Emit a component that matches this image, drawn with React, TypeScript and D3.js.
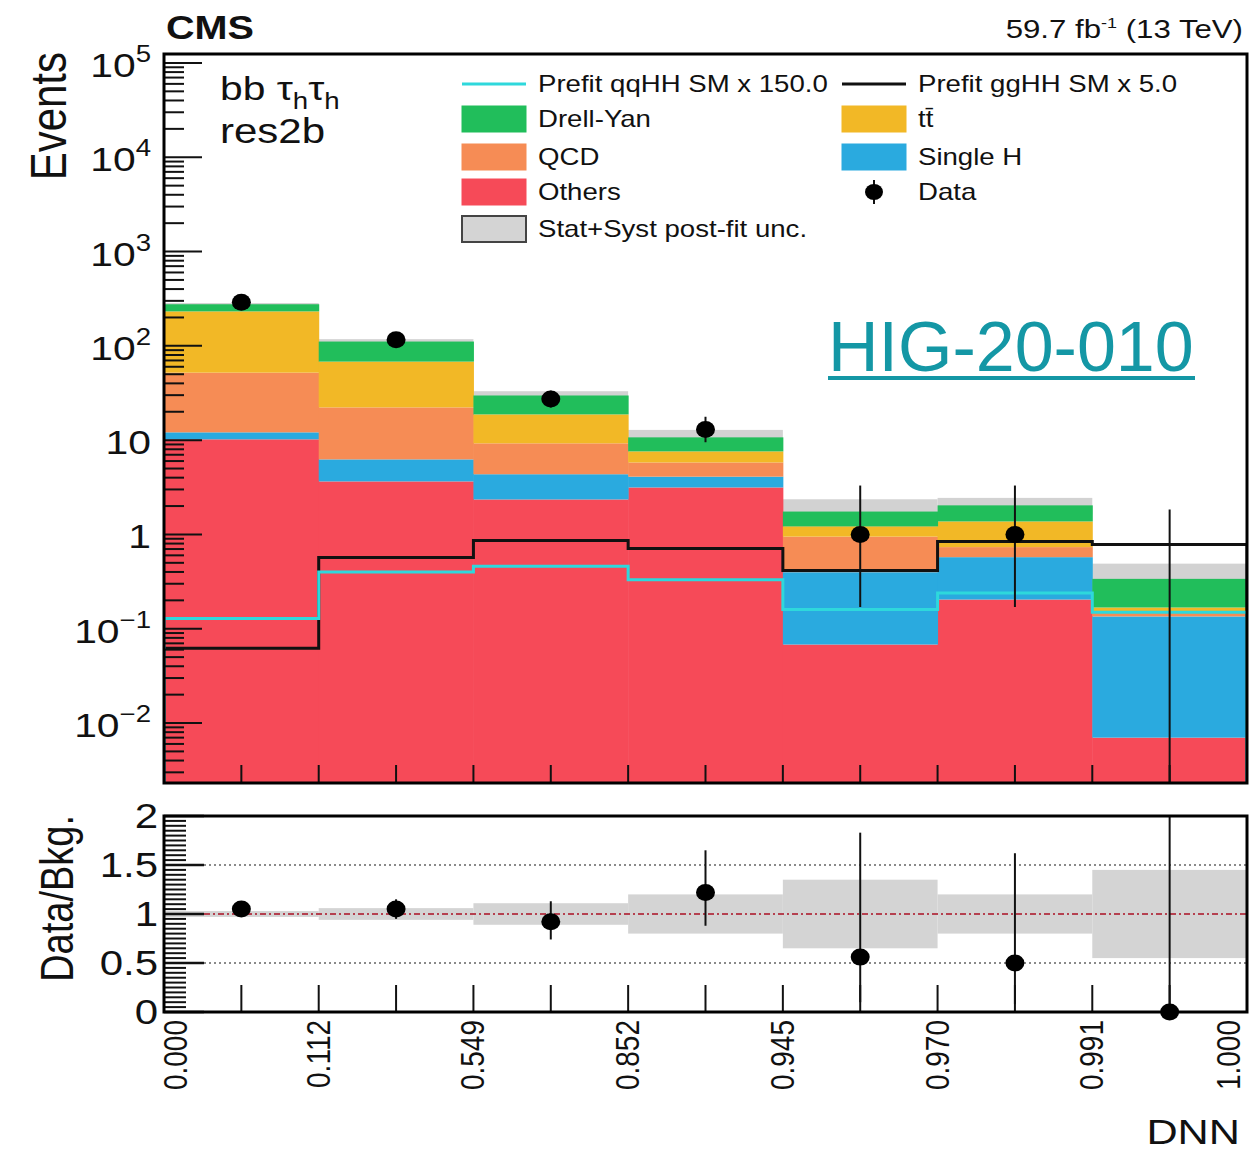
import React from "react";
import * as d3 from "d3";

// ---------------- data ----------------
const binEdgeLabels = ["0.000", "0.112", "0.549", "0.852", "0.945", "0.970", "0.991", "1.000"];
const others = [10.2, 3.65, 2.35, 3.15, 0.068, 0.204, 0.007];
const singleH = [1.9, 2.6, 2.0, 0.95, 0.33, 0.37, 0.128];
const qcd = [39.9, 16, 4.9, 1.7, 0.55, 0.16, 0.014];
const ttbar = [180, 45.8, 9.5, 1.8, 0.27, 0.64, 0.019];
const drellYan = [44, 43, 11, 3.1, 0.53, 0.66, 0.17];
const dataY = [290, 116, 27.3, 13.0, 1.0, 1.0, 0];
const dataErrUp = [17, 10.8, 6.2, 4.7, 2.3, 2.3, 1.84];
const dataErrDown = [17, 10.8, 5.1, 3.5, 0.83, 0.83, 0];
const qqHH = [0.128, 0.4, 0.46, 0.33, 0.16, 0.24, 0.15];
const ggHH = [0.062, 0.57, 0.86, 0.71, 0.415, 0.84, 0.78];
const bkgUnc = [0.03, 0.06, 0.11, 0.2, 0.35, 0.2, 0.45];
const ratio = [1.05, 1.05, 0.92, 1.22, 0.56, 0.5, 0];
const ratioErrUp = [0.06, 0.1, 0.21, 0.43, 1.27, 1.12, 5.7];
const ratioErrDown = [0.06, 0.1, 0.18, 0.34, 0.46, 0.42, 0];
const ratioTicks = [0, 0.5, 1, 1.5, 2];

const procKeys = ["others", "singleH", "qcd", "ttbar", "dy"];
const procColors: Record<string, string> = {
  others: "#f64a58",
  singleH: "#2aaadf",
  qcd: "#f68c55",
  ttbar: "#f2b826",
  dy: "#21be5b",
};
const CYAN = "#2ed8dc";
const TEAL = "#1497a5";
const FONT = "'Liberation Sans', Arial, Helvetica, sans-serif";
const SX = 1.2; // horizontal stretch of the reference rendering

// ---------------- layout ----------------
const W = 1251;
const H = 1150;
const L = 164;
const R = 1247;
const mainTop = 54;
const mainBot = 783;
const ratTop = 816;
const ratBot = 1012;

function SText(props: any) {
  const { x, y, size, rotate, anchor, weight, fill, children } = props;
  const tr = `translate(${x},${y}) scale(${SX},1)` + (rotate ? ` rotate(${rotate})` : "");
  return (
    <text
      transform={tr}
      fontSize={size}
      fontFamily={FONT}
      fontWeight={weight || "normal"}
      textAnchor={anchor || "start"}
      fill={fill || "#111"}
    >
      {children}
    </text>
  );
}

export default function App() {
  const nBins = binEdgeLabels.length - 1;
  const x = d3.scaleLinear().domain([0, nBins]).range([L, R]);
  const y = d3
    .scaleLog()
    .domain([Math.pow(10, -2.636), Math.pow(10, 5.095)])
    .range([mainBot, mainTop])
    .clamp(true);
  const yr = d3.scaleLinear().domain([0, 2]).range([ratBot, ratTop]);

  const rows = d3.range(nBins).map((i) => ({
    others: others[i],
    singleH: singleH[i],
    qcd: qcd[i],
    ttbar: ttbar[i],
    dy: drellYan[i],
  }));
  const stacked = d3.stack<any>().keys(procKeys)(rows);
  const totals = rows.map((r) => procKeys.reduce((s, k) => s + (r as any)[k], 0));

  const stepPath = (vals: number[]) => {
    const pts: [number, number][] = [[x(0), mainBot]];
    vals.forEach((v, i) => {
      pts.push([x(i), y(v)]);
      pts.push([x(i + 1), y(v)]);
    });
    pts.push([x(nBins), mainBot]);
    return d3.line()(pts) || "";
  };

  // log ticks
  const majors: number[] = [];
  const minors: number[] = [];
  const [d0, d1] = y.domain();
  for (let e = -3; e <= 5; e++) {
    for (let m = 1; m <= 9; m++) {
      const v = m * Math.pow(10, e);
      if (v < d0 || v > d1) continue;
      if (m === 1) majors.push(v);
      else minors.push(v);
    }
  }
  const ratioMinor = d3.range(0, 2.0001, 0.05).filter((v) => Math.abs(v * 2 - Math.round(v * 2)) > 1e-6);
  const xTickPos = d3.range(0, nBins + 0.01, 0.5);

  const majorLabel = (v: number) => {
    const e = Math.round(Math.log10(v));
    if (e === 0) return <tspan>1</tspan>;
    if (e === 1) return <tspan>10</tspan>;
    return (
      <>
        <tspan>10</tspan>
        <tspan dy={-15} fontSize={23}>
          {e < 0 ? "\u2212" + -e : String(e)}
        </tspan>
      </>
    );
  };

  const legendRows = [84, 119, 157, 192, 229];
  const c1 = 462;
  const c2 = 842;
  const boxW = 64;
  const boxH = 26;

  return (
    <svg
      width={W}
      height={H}
      style={{ position: "absolute", left: 0, top: 0, background: "#fff" }}
      xmlns="http://www.w3.org/2000/svg"
    >
      <defs>
        <clipPath id="mainClip">
          <rect x={L} y={mainTop} width={R - L} height={mainBot - mainTop} />
        </clipPath>
        <clipPath id="ratClip">
          <rect x={L} y={ratTop} width={R - L} height={ratBot - ratTop} />
        </clipPath>
      </defs>
      <rect x={0} y={0} width={W} height={H} fill="#fff" />

      {/* ---------- main panel ---------- */}
      <g clipPath="url(#mainClip)">
        {totals.map((t, i) => (
          <rect
            key={"u" + i}
            x={x(i)}
            width={x(i + 1) - x(i)}
            y={y(t * (1 + bkgUnc[i]))}
            height={y(t * (1 - bkgUnc[i])) - y(t * (1 + bkgUnc[i]))}
            fill="#d2d2d2"
          />
        ))}
        {stacked.map((layer) =>
          layer.map((d, i) => (
            <rect
              key={layer.key + i}
              x={x(i)}
              width={x(i + 1) - x(i) + 0.5}
              y={y(d[1])}
              height={Math.max(0, y(d[0] <= 0 ? d0 : d[0]) - y(d[1]))}
              fill={procColors[layer.key]}
            />
          ))
        )}
        <path d={stepPath(ggHH)} fill="none" stroke="#111" strokeWidth={3} />
        <path d={stepPath(qqHH)} fill="none" stroke={CYAN} strokeWidth={3} />
        {dataY.map((v, i) => {
          const cx = x(i + 0.5);
          const lo = v - dataErrDown[i];
          return (
            <line
              key={"de" + i}
              x1={cx}
              x2={cx}
              y1={y(v + dataErrUp[i])}
              y2={lo > 0 ? y(lo) : mainBot}
              stroke="#111"
              strokeWidth={2}
            />
          );
        })}
      </g>
      {dataY.map((v, i) =>
        v > 0 ? <ellipse key={"dp" + i} cx={x(i + 0.5)} cy={y(v)} rx={9.5} ry={8.5} fill="#000" /> : null
      )}

      {majors.map((v) => (
        <line key={"mj" + v} x1={L} x2={L + 38} y1={y(v)} y2={y(v)} stroke="#111" strokeWidth={2} />
      ))}
      {minors.map((v) => (
        <line key={"mn" + v} x1={L} x2={L + 20} y1={y(v)} y2={y(v)} stroke="#111" strokeWidth={2} />
      ))}
      {xTickPos.map((p) => (
        <line key={"mx" + p} x1={x(p)} x2={x(p)} y1={mainBot} y2={mainBot - 18} stroke="#111" strokeWidth={2} />
      ))}
      {majors.map((v) => (
        <text
          key={"ml" + v}
          transform={`translate(151,${y(v) + 14}) scale(${SX},1)`}
          fontSize={34}
          fontFamily={FONT}
          textAnchor="end"
          fill="#111"
        >
          {majorLabel(v)}
        </text>
      ))}
      <rect x={L} y={mainTop} width={R - L} height={mainBot - mainTop} fill="none" stroke="#000" strokeWidth={3} />

      {/* ---------- ratio panel ---------- */}
      <g clipPath="url(#ratClip)">
        {bkgUnc.map((u, i) => (
          <rect
            key={"ru" + i}
            x={x(i)}
            width={x(i + 1) - x(i)}
            y={yr(1 + u)}
            height={yr(1 - u) - yr(1 + u)}
            fill="#d4d4d4"
          />
        ))}
        {[0.5, 1.5].map((v) => (
          <line
            key={"dl" + v}
            x1={L + 40}
            x2={R}
            y1={yr(v)}
            y2={yr(v)}
            stroke="#8a8a8a"
            strokeWidth={2}
            strokeDasharray="2,3"
          />
        ))}
        <line
          x1={L + 40}
          x2={R}
          y1={yr(1)}
          y2={yr(1)}
          stroke="#b5404f"
          strokeWidth={1.8}
          strokeDasharray="6,3,2,3"
        />
        {ratio.map((r, i) => (
          <line
            key={"re" + i}
            x1={x(i + 0.5)}
            x2={x(i + 0.5)}
            y1={yr(r + ratioErrUp[i])}
            y2={yr(r - ratioErrDown[i])}
            stroke="#111"
            strokeWidth={2}
          />
        ))}
      </g>
      {ratioTicks.map((v) => (
        <line key={"rt" + v} x1={L} x2={L + 40} y1={yr(v)} y2={yr(v)} stroke="#111" strokeWidth={2.5} />
      ))}
      {ratioMinor.map((v) => (
        <line key={"rm" + v} x1={L} x2={L + 22} y1={yr(v)} y2={yr(v)} stroke="#111" strokeWidth={2} />
      ))}
      {xTickPos.map((p) => (
        <line key={"rx" + p} x1={x(p)} x2={x(p)} y1={ratBot} y2={ratBot - 27} stroke="#111" strokeWidth={2} />
      ))}
      {ratio.map((r, i) => (
        <ellipse key={"rp" + i} cx={x(i + 0.5)} cy={yr(r)} rx={9.5} ry={8.5} fill="#000" />
      ))}
      {ratioTicks.map((v) => (
        <SText key={"rl" + v} x={158} y={yr(v) + 12} size={35} anchor="end">
          {String(v)}
        </SText>
      ))}
      <rect x={L} y={ratTop} width={R - L} height={ratBot - ratTop} fill="none" stroke="#000" strokeWidth={3} />

      {/* x tick labels */}
      {binEdgeLabels.map((lab, i) => {
        const ex = Math.min(Math.max(x(i), 176), W - 22);
        return (
          <SText key={"xl" + i} x={ex + 11} y={1020} size={28} rotate={-90} anchor="end">
            {lab}
          </SText>
        );
      })}

      {/* axis titles and labels */}
      <SText x={66} y={52} size={42} rotate={-90} anchor="end">
        Events
      </SText>
      <SText x={73} y={815} size={38} rotate={-90} anchor="end">
        Data/Bkg.
      </SText>
      <SText x={1240} y={1144} size={36} anchor="end">
        DNN
      </SText>
      <SText x={166} y={39} size={33} weight="bold">
        CMS
      </SText>
      <SText x={1243} y={38} size={26} anchor="end">
        <tspan>59.7 fb</tspan>
        <tspan dy={-10} fontSize={15}>
          -1
        </tspan>
        <tspan dy={10}> (13 TeV)</tspan>
      </SText>
      <SText x={220} y={100} size={34}>
        <tspan>bb τ</tspan>
        <tspan dy={9} fontSize={23}>
          h
        </tspan>
        <tspan dy={-9}>τ</tspan>
        <tspan dy={9} fontSize={23}>
          h
        </tspan>
      </SText>
      <SText x={220} y={143} size={35}>
        res2b
      </SText>

      {/* HIG label */}
      <text x={828} y={371} fontSize={70} fontFamily={FONT} fill={TEAL}>
        HIG-20-010
      </text>
      <rect x={828} y={376} width={367} height={4} fill={TEAL} />

      {/* legend */}
      <line x1={c1} x2={c1 + boxW} y1={legendRows[0]} y2={legendRows[0]} stroke={CYAN} strokeWidth={3} />
      <SText x={538} y={legendRows[0] + 8} size={23}>
        Prefit qqHH SM x 150.0
      </SText>
      <line x1={c2} x2={c2 + boxW} y1={legendRows[0]} y2={legendRows[0]} stroke="#111" strokeWidth={3} />
      <SText x={918} y={legendRows[0] + 8} size={23}>
        Prefit ggHH SM x 5.0
      </SText>
      {[
        { col: c1, row: 1, key: "dy", label: "Drell-Yan" },
        { col: c2, row: 1, key: "ttbar", label: "t\u0074\u0304" },
        { col: c1, row: 2, key: "qcd", label: "QCD" },
        { col: c2, row: 2, key: "singleH", label: "Single H" },
        { col: c1, row: 3, key: "others", label: "Others" },
      ].map((e) => (
        <g key={e.key}>
          <rect
            x={e.col}
            y={legendRows[e.row] - boxH / 2}
            width={boxW}
            height={boxH}
            fill={procColors[e.key]}
            stroke={procColors[e.key]}
            strokeWidth={1}
          />
          <SText x={e.col + 76} y={legendRows[e.row] + 8} size={23}>
            {e.label}
          </SText>
        </g>
      ))}
      <line x1={c2 + 32} x2={c2 + 32} y1={legendRows[3] - 12} y2={legendRows[3] + 12} stroke="#111" strokeWidth={2} />
      <ellipse cx={c2 + 32} cy={legendRows[3]} rx={9} ry={8} fill="#000" />
      <SText x={918} y={legendRows[3] + 8} size={23}>
        Data
      </SText>
      <rect
        x={c1}
        y={legendRows[4] - boxH / 2}
        width={boxW}
        height={boxH}
        fill="#d4d4d4"
        stroke="#444"
        strokeWidth={2}
      />
      <SText x={538} y={legendRows[4] + 8} size={23}>
        Stat+Syst post-fit unc.
      </SText>
    </svg>
  );
}
